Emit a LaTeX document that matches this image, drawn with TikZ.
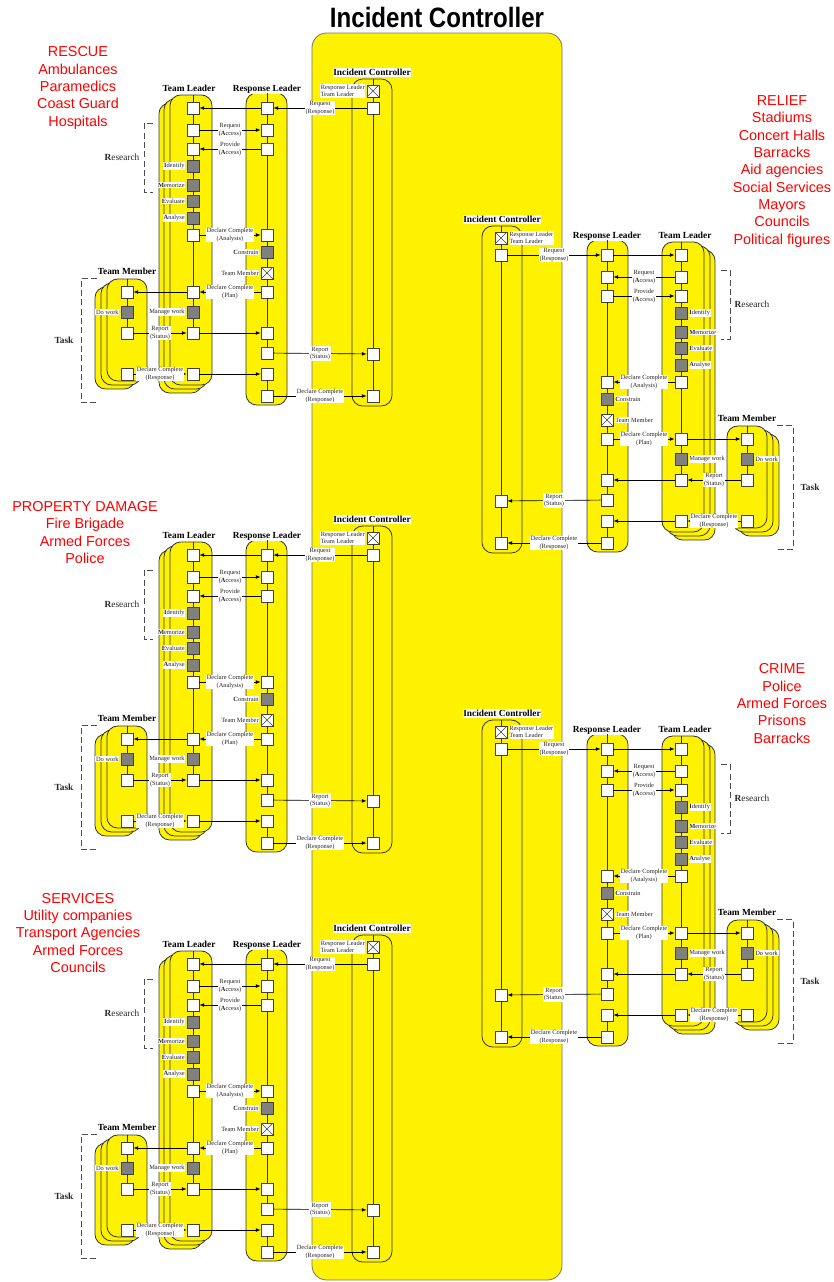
\documentclass[tikz,border=0pt]{standalone}
\usepackage{fontspec}
\usepackage{graphicx}
\setmainfont{Liberation Serif}
\newfontfamily\arialf{Liberation Sans}
\usetikzlibrary{arrows.meta,calc}

\tikzset{
  lane/.style={draw=black!80, fill=yellow, line width=0.6pt, rounded corners=8pt},
  icl/.style={draw=black!80, line width=0.6pt, rounded corners=8pt},
  bigbox/.style={draw=black!55, fill=yellow, line width=0.6pt, rounded corners=11pt},
  sq/.style={draw=black!75, fill=white, minimum size=9pt, inner sep=0pt, line width=0.5pt},
  gsq/.style={sq, fill=black!50},
  xsq/.style={sq, path picture={\draw[black!75, line width=0.4pt]
      (path picture bounding box.north west) -- (path picture bounding box.south east)
      (path picture bounding box.north east) -- (path picture bounding box.south west);}},
  lbl/.style={fill=white, inner sep=0.5pt, font=\fontsize{4.8}{5.6}\selectfont, align=center, text=black!85},
  slbl/.style={lbl, outer sep=1pt},
  ttl/.style={fill=white, inner sep=0.6pt, anchor=base, font=\bfseries\fontsize{7}{8}\selectfont},
  brklbl/.style={font=\fontsize{7}{8}\selectfont, text=black!85},
  arr/.style={-{Latex[length=3.6pt,width=2.8pt]}, line width=0.5pt, draw=black},
  life/.style={draw=black!80, line width=0.6pt},
  brk/.style={draw=black!70, line width=0.6pt, dash pattern=on 4.5pt off 2.5pt},
  redt/.style={font=\arialf\fontsize{10.8}{13}\selectfont, text=red, align=center},
}

\newcommand{\incblock}{%
  % lanes (stacks drawn back to front)
  \draw[lane] (95,287) rectangle (135,389);
  \draw[lane] (101,283) rectangle (141,385);
  \draw[lane] (107,279) rectangle (147,381);
  \draw[lane] (159,103) rectangle (202,393);
  \draw[lane] (164,99) rectangle (207,389);
  \draw[lane] (170,95) rectangle (212,385);
  \draw[lane] (246,93) rectangle (287,405);
  \draw[icl] (352,79) rectangle (392,406);
  % lane titles
  \node[ttl] (tTM) at (127,274) {Team Member};
  \node[ttl] (tTL) at (189,91.5) {Team Leader};
  \node[ttl] (tRL) at (267,91.5) {Response Leader};
  \node[ttl] (tIC) at (372,75.7) {Incident Controller};
  % lifeline tops
  \coordinate (tmT) at (127,279);
  \coordinate (tlT) at (193,95);
  \coordinate (rlT) at (267,93);
  \coordinate (icT) at (373,79);
  % Incident Controller squares
  \node[xsq] (icx) at (373,91) {};
  \node[sq] (ic1) at (373,108) {};
  \node[sq] (ic2) at (373,354) {};
  \node[sq] (ic3) at (373,396) {};
  % Response Leader squares
  \node[sq] (rl1) at (267,108) {};
  \node[sq] (rl2) at (267,130) {};
  \node[sq] (rl3) at (267,149) {};
  \node[sq] (rl4) at (267,235) {};
  \node[gsq] (rl5) at (267,252) {};
  \node[xsq] (rl6) at (267,273) {};
  \node[sq] (rl7) at (267,292) {};
  \node[sq] (rl8) at (267,333) {};
  \node[sq] (rl9) at (267,353) {};
  \node[sq] (rl10) at (267,374) {};
  \node[sq] (rl11) at (267,396) {};
  % Team Leader squares
  \node[sq] (tl1) at (193,108) {};
  \node[sq] (tl2) at (193,130) {};
  \node[sq] (tl3) at (193,149) {};
  \node[gsq] (tl4) at (193,166) {};
  \node[gsq] (tl5) at (193,185) {};
  \node[gsq] (tl6) at (193,201) {};
  \node[gsq] (tl7) at (193,218) {};
  \node[sq] (tl8) at (193,235) {};
  \node[sq] (tl9) at (193,292) {};
  \node[gsq] (tl10) at (193,312) {};
  \node[sq] (tl11) at (193,333) {};
  \node[sq] (tl12) at (193,374) {};
  % Team Member squares
  \node[sq] (tm1) at (127,292) {};
  \node[gsq] (tm2) at (127,312) {};
  \node[sq] (tm3) at (127,333) {};
  \node[sq] (tm4) at (127,374) {};
  % lifelines
  \draw[life] (icT) -- (icx) -- (ic1) -- (ic2) -- (ic3);
  \draw[life] (rlT) -- (rl1) -- (rl2) -- (rl3) -- (rl4) -- (rl5) -- (rl6) -- (rl7) -- (rl8) -- (rl9);
  \draw[life] (rl10) -- (rl11);
  \draw[life] (tlT) -- (tl1) -- (tl2) -- (tl3) -- (tl4) -- (tl5) -- (tl6) -- (tl7) -- (tl8) -- (tl9) -- (tl10) -- (tl11);
  \draw[life] (tmT) -- (tm1) -- (tm2) -- (tm3);
  % messages
  \draw[arr] (ic1) -- node[lbl] {Request\\(Response)} (rl1);
  \draw[arr] (rl1) -- (tl1);
  \draw[arr] (tl2) -- node[lbl] {Request\\(\textbf{A}ccess)} (rl2);
  \draw[arr] (rl3) -- node[lbl] {Provide\\(\textbf{A}ccess)} (tl3);
  \draw[arr] (tl8) -- node[lbl] {Declare Complete\\(Analysis)} (rl4);
  \draw[arr] (rl7) -- node[lbl] {Declare Complete\\(Plan)} (tl9);
  \draw[arr] (tl9) -- (tm1);
  \draw[arr] (tm3) -- node[lbl] {Report\\(Status)} (tl11);
  \draw[arr] (tl11) -- (rl8);
  \draw[arr] (rl9) -- node[lbl] {Report\\(Status)} (ic2);
  \draw[arr] (tm4) -- node[lbl] {Declare Complete\\(Response)} (tl12);
  \draw[arr] (tl12) -- (rl10);
  \draw[arr] (rl11) -- node[lbl] {Declare Complete\\(Response)} (ic3);
  % side labels
  \node[slbl, align=left, anchor=\SA] (licx) at (icx.\SP) {Response Leader\\Team Leader};
  \node[slbl, anchor=\SA] (ltl4) at (tl4.\SP) {\textbf{I}dentify};
  \node[slbl, anchor=\SA] (ltl5) at (tl5.\SP) {\textbf{M}emorize};
  \node[slbl, anchor=\SA] (ltl6) at (tl6.\SP) {\textbf{E}valuate};
  \node[slbl, anchor=\SA] (ltl7) at (tl7.\SP) {\textbf{A}nalyse};
  \node[slbl, anchor=\SA] (ltl10) at (tl10.\SP) {Manage work};
  \node[slbl, anchor=\SA] (lrl5) at (rl5.\SP) {\textbf{C}onstrain};
  \node[slbl, anchor=\SA] (lrl6) at (rl6.\SP) {Team Member};
  \node[slbl, anchor=\SA] (ltm2) at (tm2.\SP) {Do work};
  % brackets
  \draw[brk] (153,123) -- (144,123) -- (144,192) -- (153,192);
  \node[brklbl] (res) at (122,157) {\textbf{R}esearch};
  \draw[brk] (97,278) -- (81,278) -- (81,402) -- (97,402);
  \node[brklbl] (task) at (64,340) {\textbf{Task}};
}

\begin{document}
\begin{tikzpicture}[x=0.75pt,y=-0.75pt]
  \useasboundingbox (0,0) rectangle (834,1282);
  \node[font=\arialf\bfseries\fontsize{21}{21}\selectfont] (title) at (437,17) {\scalebox{0.86}[1]{Incident Controller}};
  \draw[bigbox] (312,33) rectangle (562,1280);

  \begin{scope}[name prefix=A-]
    \def\SA{east}\def\SP{west}\incblock
  \end{scope}
  \begin{scope}[shift={(0,447)}, name prefix=B-]
    \def\SA{east}\def\SP{west}\incblock
  \end{scope}
  \begin{scope}[shift={(0,856)}, name prefix=C-]
    \def\SA{east}\def\SP{west}\incblock
  \end{scope}
  \begin{scope}[shift={(874,147)}, xscale=-1, name prefix=D-]
    \def\SA{west}\def\SP{east}\incblock
  \end{scope}
  \begin{scope}[shift={(874,641)}, xscale=-1, name prefix=E-]
    \def\SA{west}\def\SP{east}\incblock
  \end{scope}

  \node[redt] (rescue) at (78,88) {RESCUE\\Ambulances\\Paramedics\\Coast Guard\\Hospitals};
  \node[redt] (property) at (85,532.5) {PROPERTY DAMAGE\\Fire Brigade\\Armed Forces\\Police};
  \node[redt] (services) at (78,933) {SERVICES\\Utility companies\\Transport Agencies\\Armed Forces\\Councils};
  \node[redt] (relief) at (782,171.5) {RELIEF\\Stadiums\\Concert Halls\\Barracks\\Aid agencies\\Social Services\\Mayors\\Councils\\Political figures};
  \node[redt] (crime) at (782,703.5) {CRIME\\Police\\Armed Forces\\Prisons\\Barracks};
\end{tikzpicture}
\end{document}
